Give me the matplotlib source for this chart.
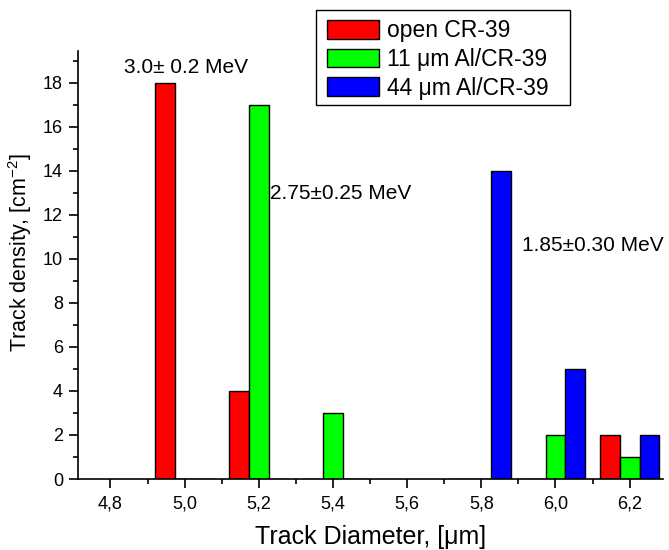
import matplotlib
matplotlib.use("Agg")
import matplotlib.pyplot as plt
import numpy as np
from matplotlib.ticker import MultipleLocator, FuncFormatter
from matplotlib.patches import Rectangle

plt.rcParams['font.family'] = ['Liberation Sans', 'DejaVu Sans']
plt.rcParams['mathtext.fontset'] = 'custom'
plt.rcParams['mathtext.rm'] = 'Liberation Sans'
plt.rcParams['mathtext.it'] = 'Liberation Sans:italic'
plt.rcParams['mathtext.bf'] = 'Liberation Sans:bold'

# Data
diameters = [5.0, 5.2, 5.4, 5.8, 6.0, 6.2]
open_cr39 = [18, 4, 0, 0, 0, 2]
al11_cr39 = [0, 17, 3, 0, 2, 1]
al44_cr39 = [0, 0, 0, 14, 5, 2]
series_names = ["open CR-39", "11 \u03bcm Al/CR-39", "44 \u03bcm Al/CR-39"]
series_colors = ["#FF0000", "#00FF00", "#0000FF"]
annotations = ["3.0\u00b1 0.2 MeV", "2.75\u00b10.25 MeV", "1.85\u00b10.30 MeV"]

W, H = 669, 550
fig = plt.figure(figsize=(W / 100, H / 100), dpi=100)
ax = fig.add_axes([78 / W, (H - 479) / H, (663 - 78) / W, (479 - 51) / H])

x = np.array(diameters)
bw = 0.0533
for i, (vals, name, col) in enumerate(zip([open_cr39, al11_cr39, al44_cr39], series_names, series_colors)):
    ax.bar(x + (i - 1) * bw, vals, width=bw, color=col, edgecolor='black', linewidth=1.0, label=name, zorder=2)

ax.set_xlim(4.7125, 6.29)
ax.set_ylim(0, 19.45)

ax.xaxis.set_major_locator(MultipleLocator(0.2))
ax.xaxis.set_minor_locator(MultipleLocator(0.1))
ax.yaxis.set_major_locator(MultipleLocator(2))
ax.yaxis.set_minor_locator(MultipleLocator(1))
ax.xaxis.set_major_formatter(FuncFormatter(lambda v, p: f"{v:.1f}".replace('.', ',')))
ax.yaxis.set_major_formatter(FuncFormatter(lambda v, p: f"{int(round(v))}"))

for s in ['top', 'right']:
    ax.spines[s].set_visible(False)
for s in ['left', 'bottom']:
    ax.spines[s].set_linewidth(1.2)

ax.tick_params(axis='both', which='major', direction='out', length=6.3, width=1.2, labelsize=13, pad=4.5)
ax.tick_params(axis='x', which='major', pad=5.5)
ax.tick_params(axis='both', which='minor', direction='out', length=3.8, width=1.2)

ax.set_xlabel("Track Diameter, [\u03bcm]", fontsize=18, labelpad=9)
ax.set_ylabel("Track density, [cm$^{-2}$]", fontsize=15.5)
ax.yaxis.set_label_coords(-0.075, 0.53)

ann_x = [4.837, 5.231, 5.909]
ann_y = [18.44, 12.71, 10.36]
for t, ax_, ay_ in zip(annotations, ann_x, ann_y):
    ax.text(ax_, ay_, t, fontsize=15, ha='left', va='baseline', clip_on=False)

frame = Rectangle((316 / W, 1 - 105 / H), (570 - 316) / W, 95 / H, transform=fig.transFigure,
                  facecolor='white', edgecolor='black', linewidth=1.0, zorder=4)
fig.add_artist(frame)
leg = fig.legend(loc='upper left', bbox_to_anchor=(318 / W, 1 - 10 / H), fontsize=16.5,
                 frameon=False,
                 handlelength=2.27, handleheight=0.87, handletextpad=0.35,
                 labelspacing=0.25, borderpad=0.4, borderaxespad=0)
leg.set_zorder(5)

fig.savefig("out.png", dpi=100)
